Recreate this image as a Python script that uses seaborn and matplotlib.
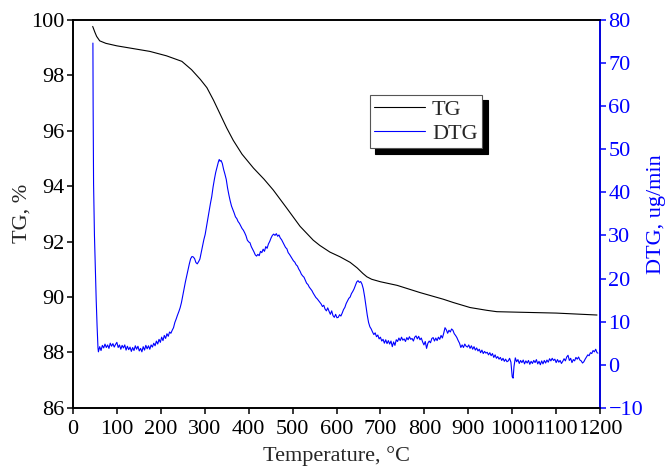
import numpy as np
import pandas as pd
import seaborn as sns
import matplotlib
matplotlib.use("Agg")
import matplotlib.pyplot as plt

# TG curve (smooth)
tg_temp = [45, 50, 54, 61, 75, 100, 130, 175, 213, 248, 270, 290, 305, 320, 335,
           350, 365, 385, 411, 435, 456, 487, 517, 547, 562, 585, 608, 631, 647,
           660, 669, 680, 700, 738, 790, 843, 866, 904, 942, 965, 1018, 1100, 1193]
tg_value = [99.76, 99.55, 99.40, 99.24, 99.15, 99.06, 98.98, 98.86, 98.70, 98.50,
            98.20, 97.85, 97.55, 97.10, 96.60, 96.10, 95.65, 95.15, 94.65, 94.25,
            93.86, 93.20, 92.55, 92.05, 91.86, 91.62, 91.45, 91.25, 91.05, 90.85,
            90.73, 90.64, 90.55, 90.42, 90.16, 89.92, 89.80, 89.62, 89.52, 89.47,
            89.45, 89.42, 89.35]

# DTG curve (noisy)
dtg_temp = [
    45.5, 46, 47, 49, 51, 53, 55, 57, 58, 61,
    64, 67, 70, 73, 76, 79, 82, 85, 88, 91,
    94, 97, 100, 103, 106, 109, 112, 115, 118, 121,
    124, 127, 130, 133, 136, 139, 142, 145, 148, 151,
    154, 157, 160, 163, 166, 169, 172, 175, 178, 181,
    184, 187, 190, 193, 196, 199, 202, 205, 208, 211,
    214, 217, 220, 223, 226, 229, 232, 235, 238, 241,
    244, 247, 250, 253, 256, 259, 262, 265, 268, 271,
    274, 277, 280, 283, 286, 289, 292, 295, 298, 301,
    304, 307, 310, 313, 316, 319, 322, 325, 328, 331,
    333, 335, 337, 340, 343, 346, 349, 352, 355, 358,
    361, 364, 367, 370, 373, 376, 379, 382, 385, 388,
    391, 394, 397, 400, 403, 406, 409, 412, 415, 418,
    421, 424, 427, 430, 433, 436, 439, 442, 445, 448,
    451, 454, 457, 460, 463, 466, 469, 472, 475, 478,
    481, 484, 487, 490, 493, 496, 499, 502, 505, 508,
    511, 514, 517, 520, 523, 526, 529, 532, 535, 538,
    541, 544, 547, 550, 553, 556, 559, 562, 565, 568,
    571, 574, 577, 580, 583, 586, 589, 592, 595, 598,
    601, 604, 607, 610, 613, 616, 619, 622, 625, 628,
    631, 634, 637, 640, 643, 646, 649, 652, 655, 658,
    661, 664, 667, 670, 673, 676, 679, 682, 685, 688,
    691, 694, 697, 700, 703, 706, 709, 712, 715, 718,
    721, 724, 727, 730, 733, 736, 739, 742, 745, 748,
    751, 754, 757, 760, 763, 766, 769, 772, 775, 778,
    781, 784, 787, 790, 793, 796, 799, 802, 805, 808,
    811, 814, 817, 820, 823, 826, 829, 832, 835, 838,
    841, 844, 847, 850, 853, 856, 859, 862, 865, 868,
    871, 874, 877, 880, 883, 886, 889, 892, 895, 898,
    901, 904, 907, 910, 913, 916, 919, 922, 925, 928,
    931, 934, 937, 940, 943, 946, 949, 952, 955, 958,
    961, 964, 967, 970, 973, 976, 979, 982, 985, 988,
    991, 994, 997, 1000, 1002, 1004, 1007, 1010, 1013, 1016,
    1019, 1022, 1025, 1028, 1031, 1034, 1037, 1040, 1043, 1046,
    1049, 1052, 1055, 1058, 1061, 1064, 1067, 1070, 1073, 1076,
    1079, 1082, 1085, 1088, 1091, 1094, 1097, 1100, 1103, 1106,
    1109, 1112, 1115, 1118, 1121, 1124, 1127, 1130, 1133, 1136,
    1139, 1142, 1145, 1148, 1151, 1154, 1157, 1160, 1163, 1166,
    1169, 1172, 1175, 1178, 1181, 1184, 1187, 1190, 1193, 1195,
]
dtg_value = [
    74.6, 60, 42, 30, 22, 15, 9, 4, 3.0, 4.2,
    3.3, 4.5, 3.9, 4.8, 4.0, 4.6, 3.8, 5.0, 4.3, 4.9,
    4.1, 4.7, 5.2, 4.0, 4.6, 3.6, 4.5, 3.9, 4.6, 3.4,
    4.3, 3.5, 4.1, 3.1, 4.0, 3.3, 4.4, 3.6, 4.3, 3.2,
    3.8, 3.0, 4.2, 3.4, 4.5, 3.7, 4.4, 3.6, 4.6, 4.1,
    5.0, 4.4, 5.5, 4.8, 5.9, 5.2, 6.4, 5.6, 6.8, 6.1,
    7.2, 6.6, 7.6, 7.3, 8.0, 8.6, 9.8, 10.6, 11.5, 12.3,
    13.2, 14.4, 16.0, 17.6, 19.2, 20.6, 22.0, 23.4, 24.6, 25.1,
    25.0, 24.6, 23.7, 23.4, 23.9, 24.5, 26.0, 27.4, 29.0, 30.2,
    32.0, 33.8, 35.7, 37.4, 39.0, 41.2, 43.0, 44.6, 45.8, 47.0,
    47.6, 47.2, 47.4, 46.7, 45.3, 44.2, 43.0, 41.0, 39.4, 38.0,
    36.8, 36.0, 35.2, 34.3, 33.9, 33.2, 32.8, 32.2, 31.6, 31.2,
    30.6, 29.9, 28.9, 28.5, 28.3, 27.4, 26.8, 26.2, 25.5, 25.2,
    25.6, 25.3, 26.3, 26.0, 26.8, 26.3, 27.4, 27.0, 28.0, 28.6,
    29.4, 30.0, 30.3, 30.0, 30.4, 29.8, 30.1, 29.4, 29.0, 28.4,
    27.8, 27.2, 26.9, 26.0, 25.6, 25.1, 24.6, 24.1, 23.8, 23.2,
    22.9, 22.2, 21.7, 21.0, 20.6, 20.3, 19.6, 18.9, 18.6, 18.0,
    17.6, 17.2, 16.6, 16.1, 15.6, 15.3, 14.9, 14.5, 14.1, 13.5,
    13.8, 12.9, 12.5, 13.2, 12.4, 11.7, 12.5, 11.4, 11.0, 11.7,
    10.9, 11.0, 11.6, 11.3, 12.0, 12.8, 13.3, 14.2, 14.8, 15.4,
    15.7, 16.5, 17.0, 17.6, 18.4, 19.2, 19.5, 19.1, 19.3, 18.7,
    17.6, 15.8, 13.6, 11.5, 9.8, 8.8, 8.3, 7.6, 7.0, 7.4,
    6.5, 6.9, 6.0, 6.4, 5.5, 5.9, 5.0, 5.8, 4.9, 5.6,
    4.8, 5.5, 4.2, 5.3, 4.5, 5.8, 5.4, 6.2, 5.6, 6.4,
    5.7, 6.0, 5.4, 6.3, 5.8, 6.5, 5.9, 6.1, 5.5, 6.4,
    6.7, 6.0, 6.6, 5.8, 6.2, 5.3, 4.6, 5.4, 3.8, 5.0,
    5.5, 5.1, 6.1, 6.3, 5.5, 6.2, 5.6, 6.4, 5.9, 6.8,
    6.2, 7.3, 8.6, 8.1, 7.3, 8.0, 7.6, 8.3, 8.0, 7.2,
    6.8, 6.3, 5.6, 5.0, 4.0, 4.6, 4.0, 4.8, 4.3, 4.1,
    4.6, 3.8, 4.4, 3.6, 4.2, 3.4, 3.9, 3.2, 3.6, 2.8,
    3.4, 2.6, 3.1, 2.7, 2.9, 2.3, 2.8, 2.1, 2.6, 1.7,
    2.3, 1.5, 1.9, 1.3, 1.7, 1.0, 1.5, 0.8, 1.3, 0.7,
    0.9, 1.5, 0.6, -2.8, -3.1, -0.4, 1.6, 0.7, 1.2, 0.3,
    1.0, 0.5, 1.1, 0.2, 0.9, 0.4, 1.0, 0.1, 0.8, 0.3,
    1.0, 0.5, 1.2, 0.2, 0.8, 0.0, 0.9, 0.2, 1.0, 0.4,
    1.1, 0.6, 1.4, 0.9, 1.5, 1.0, 1.3, 0.5, 1.2, 0.6,
    1.0, 0.3, 0.8, 1.4, 0.9, 1.8, 2.2, 1.0, 1.5, 0.5,
    1.2, 0.9, 1.7, 1.3, 1.8, 1.1, 0.9, 0.4, 0.7, 1.3,
    1.8, 2.3, 2.1, 2.8, 2.6, 3.3, 3.0, 3.6, 2.8, 2.7,
]
assert len(dtg_temp) == len(dtg_value)

x_ticks = [0, 100, 200, 300, 400, 500, 600, 700, 800, 900, 1000, 1100, 1200]
tg_ticks = [86, 88, 90, 92, 94, 96, 98, 100]
dtg_ticks = [-10, 0, 10, 20, 30, 40, 50, 60, 70, 80]

sns.set_style("ticks")
plt.rcParams["font.family"] = ["Liberation Serif", "DejaVu Serif"]
fs = 16

blue = "#0000ff"

fig = plt.figure(figsize=(6.69, 4.71), dpi=100)
ax = fig.add_axes([0.109, 0.134, 0.788, 0.824])
ax2 = ax.twinx()

sns.lineplot(x=tg_temp, y=tg_value, ax=ax, color="black", linewidth=0.8,
             estimator=None, sort=False, label="TG", legend=False)
sns.lineplot(x=dtg_temp, y=dtg_value, ax=ax2, color=blue, linewidth=0.8,
             estimator=None, sort=False, label="DTG", legend=False)

ax.set_xlim(0, 1200)
ax.set_ylim(86, 100)
ax.set_xticks(x_ticks)
ax.set_yticks(tg_ticks)
ax2.set_ylim(-10, 80)
ax2.set_yticks(dtg_ticks)

ax.set_xlabel("Temperature, °C", fontsize=fs, labelpad=5)
ax.set_ylabel("TG, %", fontsize=fs, labelpad=0)
ax2.set_ylabel("DTG, ug/min", fontsize=fs, color=blue, labelpad=3)

for a in (ax, ax2):
    for s in a.spines.values():
        s.set_linewidth(1.2)
        s.set_color("black")
ax2.spines["right"].set_color(blue)
ax.tick_params(axis="both", direction="out", length=4, width=1.1,
               labelsize=fs, colors="black", pad=2)
ax.tick_params(axis="x", pad=5)
ax2.tick_params(axis="y", direction="out", length=4, width=1.1,
                labelsize=fs, colors=blue, pad=2)

lines = ax.get_lines() + ax2.get_lines()
leg = ax.legend(lines, ["TG", "DTG"], loc="upper left",
                bbox_to_anchor=(0.563, 0.807), fancybox=False,
                shadow={"color": "black", "alpha": 1, "ox": 4, "oy": -4},
                framealpha=1, edgecolor="#555555", fontsize=fs,
                handlelength=2.3, handletextpad=0.3, borderpad=0.2,
                labelspacing=0.15, borderaxespad=0)
leg.get_frame().set_linewidth(0.8)

fig.savefig("out.png", dpi=100)
